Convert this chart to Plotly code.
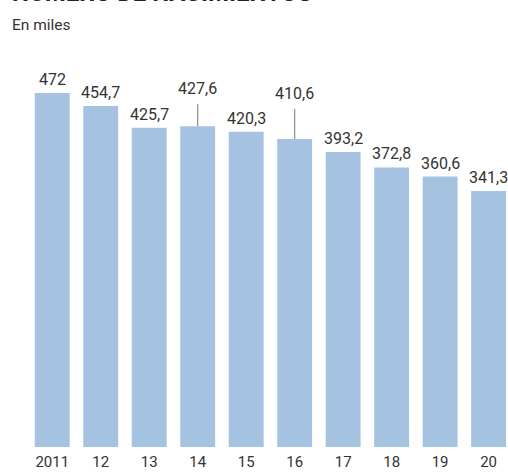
import plotly.graph_objects as go

# Births per year, in thousands
years = ["2011", "12", "13", "14", "15", "16", "17", "18", "19", "20"]
births = [472.0, 454.7, 425.7, 427.6, 420.3, 410.6, 393.2, 372.8, 360.6, 341.3]
labels = ["472", "454,7", "425,7", "427,6", "420,3", "410,6", "393,2", "372,8", "360,6", "341,3"]
# labels lifted above their bar with a leader line
raised = {"14": 38, "16": 46}

W, H = 508, 472
L, R, T, B = 28, 0, 27, 25
FONT = "Roboto, 'Open Sans', sans-serif"
TEXT = "#333333"
BAR = "#a5c3e1"

xs = list(range(len(years)))

fig = go.Figure(
    go.Bar(
        x=xs,
        y=births,
        width=0.72,
        marker=dict(color=BAR, line=dict(width=0)),
        hoverinfo="skip",
    )
)

annotations = []
for x, yr, v, lab in zip(xs, years, births, labels):
    if yr in raised:
        annotations.append(dict(
            x=x, y=v, xref="x", yref="y", text=lab,
            showarrow=True, arrowhead=0, arrowwidth=1.2, arrowcolor="#8c8c8c",
            ax=0, ay=-raised[yr], startstandoff=5,
            font=dict(family=FONT, size=16, color=TEXT),
        ))
    else:
        annotations.append(dict(
            x=x, y=v, xref="x", yref="y", text=lab,
            showarrow=False, yanchor="bottom", yshift=2,
            font=dict(family=FONT, size=16, color=TEXT),
        ))

# heading (runs off the top edge) and unit line
annotations.append(dict(
    text="<b>NÚMERO DE NACIMIENTOS</b>", xref="paper", yref="paper",
    x=0, y=1, xanchor="left", yanchor="bottom", xshift=10 - L, yshift=T - 9,
    showarrow=False, font=dict(family=FONT, size=24, color="#222222"),
))
annotations.append(dict(
    text="En miles", xref="paper", yref="paper",
    x=0, y=1, xanchor="left", yanchor="middle", xshift=10 - L, yshift=T - 25,
    showarrow=False, font=dict(family=FONT, size=15.5, color=TEXT),
))

fig.update_layout(
    width=W, height=H,
    margin=dict(l=L, r=R, t=T, b=B),
    paper_bgcolor="white", plot_bgcolor="white",
    showlegend=False,
    annotations=annotations,
    xaxis=dict(
        range=[-0.5, 9.4], tickmode="array", tickvals=xs, ticktext=years,
        showgrid=False, zeroline=False, showline=False, ticks="",
        ticklabelstandoff=4,
        tickfont=dict(family=FONT, size=15, color=TEXT),
        fixedrange=True,
    ),
    yaxis=dict(
        range=[0, 560], visible=False, showgrid=False, zeroline=False,
        fixedrange=True,
    ),
)

fig.write_html("out.html")
